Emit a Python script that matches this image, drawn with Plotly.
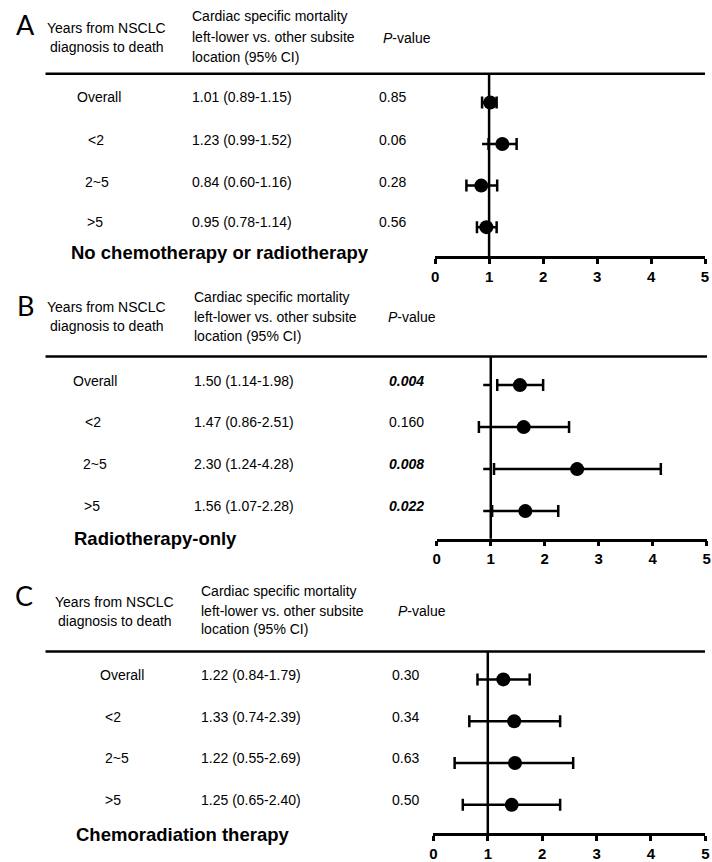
import plotly.graph_objects as go

# ---------------- data ----------------
rows = ["Overall", "<2", "2~5", ">5"]

a_title = "No chemotherapy or radiotherapy"
a_ci_text = ["1.01 (0.89-1.15)", "1.23 (0.99-1.52)", "0.84 (0.60-1.16)", "0.95 (0.78-1.14)"]
a_p = ["0.85", "0.06", "0.28", "0.56"]
a_sig = [False, False, False, False]
a_point = [1.02, 1.245, 0.855, 0.95]
a_lo = [0.87, 0.99, 0.58, 0.775]
a_hi = [1.14, 1.51, 1.15, 1.14]
a_stub = [None, 0.87, None, None]

b_title = "Radiotherapy-only"
b_ci_text = ["1.50 (1.14-1.98)", "1.47 (0.86-2.51)", "2.30 (1.24-4.28)", "1.56 (1.07-2.28)"]
b_p = ["0.004", "0.160", "0.008", "0.022"]
b_sig = [True, False, True, True]
b_point = [1.54, 1.61, 2.60, 1.64]
b_lo = [1.12, 0.78, 1.06, 1.025]
b_hi = [1.97, 2.45, 4.15, 2.25]
b_stub = [0.86, None, 0.86, 0.86]

c_title = "Chemoradiation therapy"
c_ci_text = ["1.22 (0.84-1.79)", "1.33 (0.74-2.39)", "1.22 (0.55-2.69)", "1.25 (0.65-2.40)"]
c_p = ["0.30", "0.34", "0.63", "0.50"]
c_sig = [False, False, False, False]
c_point = [1.285, 1.485, 1.50, 1.44]
c_lo = [0.81, 0.66, 0.39, 0.54]
c_hi = [1.77, 2.33, 2.57, 2.33]
c_stub = [None, None, None, None]

x_ticks = [0, 1, 2, 3, 4, 5]
header_years = ["Years from NSCLC", "diagnosis to death"]
header_ci = ["Cardiac specific mortality", "left-lower vs. other subsite", "location (95% CI)"]
header_p = "<i>P</i>-value"
panel_letters = ["A", "B", "C"]

# ---------------- layout geometry (pixels) ----------------
W, H = 712, 862
def px(x):
    return x / W
def py(y):
    return 1 - y / H

panels = [
    dict(letter=(22, 25), years_c=104, years_y=[28, 47], ci_l=188, ci_y=[16, 37, 57],
         ph=(381, 38), line_y=74, line_x=(42, 709), text_y=[97, 140, 182, 223],
         lab_c=[96, 93, 94, 92], ci_rows_l=188, p_l=377, title=(218, 253),
         ax=(436, 709), row_y=[102.7, 145, 186.7, 227.7], axis_y=256.7,
         title_txt=a_title, ci_txt=a_ci_text, p=a_p, sig=a_sig,
         pt=a_point, lo=a_lo, hi=a_hi, stub=a_stub),
    dict(letter=(22, 306), years_c=104, years_y=[308, 327], ci_l=190, ci_y=[298, 318, 337],
         ph=(386, 318), line_y=357.3, line_x=(42, 711), text_y=[381.7, 423.3, 465, 506.7],
         lab_c=[92, 90, 92, 89], ci_rows_l=190, p_l=387, title=(153, 540),
         ax=(437.7, 710.7), row_y=[386, 428.3, 470, 512.3], axis_y=540,
         title_txt=b_title, ci_txt=b_ci_text, p=b_p, sig=b_sig,
         pt=b_point, lo=b_lo, hi=b_hi, stub=b_stub),
    dict(letter=(20, 597), years_c=112, years_y=[603, 622], ci_l=197, ci_y=[592, 612, 630],
         ph=(396, 612), line_y=653, line_x=(42, 709), text_y=[676.7, 718.3, 760, 801.7],
         lab_c=[119, 110, 114, 110], ci_rows_l=197, p_l=390, title=(181, 836.7),
         ax=(434.3, 709.3), row_y=[681, 722.7, 765, 806.7], axis_y=835,
         title_txt=c_title, ci_txt=c_ci_text, p=c_p, sig=c_sig,
         pt=c_point, lo=c_lo, hi=c_hi, stub=c_stub),
]

FONT = "Liberation Sans, Arial, sans-serif"
fig = go.Figure()
annotations = []
shapes = []
layout_axes = {}

def ann(text, x, y, xanchor="left", size=14, family=FONT, color="black"):
    annotations.append(dict(text=text, x=px(x), y=py(y), xref="paper", yref="paper",
                            xanchor=xanchor, yanchor="middle", showarrow=False,
                            font=dict(family=family, size=size, color=color)))

for i, p in enumerate(panels):
    k = "" if i == 0 else str(i + 1)
    xa, ya = "x" + k, "y" + k
    n = len(rows)
    yvals = [n - j for j in range(n)]  # Overall at top
    s = (p["row_y"][-1] - p["row_y"][0]) / (n - 1)
    y_bot = 1 - (p["axis_y"] - p["row_y"][-1]) / s
    y_top = n + (p["row_y"][0] - p["line_y"]) / s

    layout_axes["xaxis" + k] = dict(
        domain=[px(p["ax"][0]), px(p["ax"][1])], range=[0, 5], anchor=ya,
        tickvals=x_ticks, ticktext=[str(t) for t in x_ticks],
        showline=True, linecolor="black", linewidth=2.5,
        ticks="outside", ticklen=5, tickwidth=2.5, tickcolor="black",
        showgrid=False, zeroline=False, fixedrange=True, ticklabeloverflow="allow",
        tickfont=dict(family=FONT, size=15, color="black", weight="bold"))
    layout_axes["yaxis" + k] = dict(
        domain=[py(p["axis_y"]), py(p["line_y"])], range=[y_bot, y_top], anchor=xa,
        visible=False, showgrid=False, zeroline=False, fixedrange=True)

    # stubs left of reference line
    sx, sy = [], []
    for j, st in enumerate(p["stub"]):
        if st is not None:
            sx += [st, 1.0, None]
            sy += [yvals[j], yvals[j], None]
    if sx:
        fig.add_trace(go.Scatter(x=sx, y=sy, xaxis=xa, yaxis=ya, mode="lines",
                                 line=dict(color="black", width=2.5), hoverinfo="skip",
                                 showlegend=False))

    fig.add_trace(go.Scatter(
        x=p["pt"], y=yvals, xaxis=xa, yaxis=ya, mode="markers",
        marker=dict(color="black", size=14, symbol="circle"),
        error_x=dict(type="data", symmetric=False,
                     array=[h - e for h, e in zip(p["hi"], p["pt"])],
                     arrayminus=[e - l for e, l in zip(p["pt"], p["lo"])],
                     color="black", thickness=2.5, width=6),
        showlegend=False))

    # reference line at 1
    shapes.append(dict(type="line", xref=xa, yref=ya + " domain", x0=1, x1=1, y0=0, y1=1,
                       line=dict(color="black", width=2.5), layer="below"))
    # top header rule
    shapes.append(dict(type="line", xref="paper", yref="paper",
                       x0=px(p["line_x"][0]), x1=px(p["line_x"][1]),
                       y0=py(p["line_y"]), y1=py(p["line_y"]),
                       line=dict(color="black", width=2.5)))

    # header texts
    ann(panel_letters[i], p["letter"][0], p["letter"][1], xanchor="center", size=27,
        family="Lato, Open Sans, sans-serif")
    for t, yy in zip(header_years, p["years_y"]):
        ann(t, p["years_c"], yy, xanchor="center")
    for t, yy in zip(header_ci, p["ci_y"]):
        ann(t, p["ci_l"], yy)
    ann(header_p, p["ph"][0], p["ph"][1])

    # rows
    for j in range(n):
        ann(rows[j].replace("<", "&lt;").replace(">", "&gt;"), p["lab_c"][j], p["text_y"][j], xanchor="center")
        ann(p["ci_txt"][j], p["ci_rows_l"], p["text_y"][j])
        ptxt = "<b><i>%s</i></b>" % p["p"][j] if p["sig"][j] else p["p"][j]
        ann(ptxt, p["p_l"], p["text_y"][j])

    ann("<b>%s</b>" % p["title_txt"], p["title"][0], p["title"][1], xanchor="center", size=18.5)

fig.update_layout(
    width=W, height=H, margin=dict(l=0, r=0, t=0, b=0),
    paper_bgcolor="white", plot_bgcolor="white",
    annotations=annotations, shapes=shapes, showlegend=False,
    **layout_axes)

fig.write_html("out.html", config={"displayModeBar": False},
               post_script="document.body.style.margin='0';document.body.style.overflow='hidden';")
